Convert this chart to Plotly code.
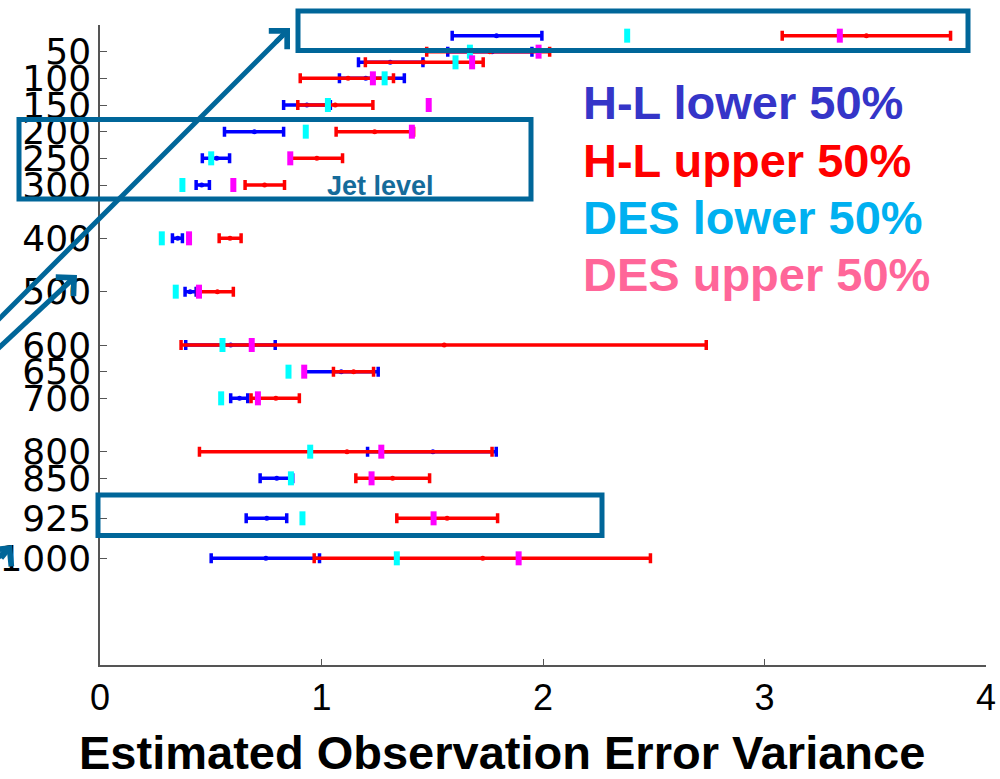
import plotly.graph_objects as go

# ---------------- data ----------------
levels = [20, 50, 70, 100, 150, 200, 250, 300, 400, 500, 600, 650, 700, 800, 850, 925, 1000]

hl_lower_min = [1.59, 1.57, 1.167, 1.081, 0.829, 0.562, 0.462, 0.434, 0.327, 0.384, 0.387, 0.923, 0.59, 1.208, 0.723, 0.66, 0.502]
hl_lower_mid = [1.79, 1.77, 1.31, 1.20, 0.934, 0.697, 0.527, 0.459, 0.351, 0.407, 0.59, 1.089, 0.63, 1.503, 0.798, 0.753, 0.749]
hl_lower_max = [1.995, 1.95, 1.458, 1.374, 1.04, 0.829, 0.585, 0.494, 0.372, 0.434, 0.791, 1.256, 0.667, 1.789, 0.87, 0.843, 0.991]

hl_upper_min = [3.08, 1.475, 1.198, 0.904, 0.893, 1.066, 0.862, 0.655, 0.538, 0.44, 0.366, 1.054, 0.682, 0.449, 1.155, 1.34, 0.967]
hl_upper_mid = [3.46, 1.76, 1.46, 1.12, 1.062, 1.24, 0.979, 0.743, 0.587, 0.53, 1.554, 1.145, 0.794, 1.115, 1.321, 1.567, 1.728]
hl_upper_max = [3.84, 2.03, 1.73, 1.325, 1.232, 1.416, 1.095, 0.833, 0.637, 0.602, 2.737, 1.235, 0.9, 1.77, 1.488, 1.795, 2.485]

des_lower = [2.38, 1.67, 1.605, 1.285, 1.029, 0.929, 0.502, 0.372, 0.279, 0.342, 0.553, 0.851, 0.547, 0.949, 0.862, 0.914, 1.34]
des_upper = [3.34, 1.98, 1.68, 1.232, 1.484, 1.408, 0.859, 0.602, 0.402, 0.447, 0.685, 0.922, 0.713, 1.27, 1.226, 1.506, 1.89]

ytick_vals = [50, 100, 150, 200, 250, 300, 400, 500, 600, 650, 700, 800, 850, 925, 1000]
xtick_vals = [0, 1, 2, 3, 4]

legend_labels = ["H-L lower 50%", "H-L upper 50%", "DES lower 50%", "DES upper 50%"]
legend_colors = ["#3535C8", "#FF0000", "#00B0F0", "#FF6699"]

# ---------------- layout geometry ----------------
W, H = 1000, 779
ML, MR, MT, MB = 100, 14, 25, 114
PW, PH = W - ML - MR, H - MT - MB
BOX = "#006699"
SANS = "Liberation Sans, Arial, sans-serif"


def px(x):
    return (x - ML) / PW


def py(y):
    return (H - MB - y) / PH


fig = go.Figure()


def errbar(mins, mids, maxs, color):
    fig.add_trace(go.Scatter(
        x=mids, y=levels, mode="markers",
        marker=dict(color=color, size=5),
        error_x=dict(type="data", symmetric=False,
                     array=[b - m for b, m in zip(maxs, mids)],
                     arrayminus=[m - a for a, m in zip(mins, mids)],
                     color=color, thickness=3.5, width=5),
        showlegend=False, hoverinfo="x+y"))


errbar(hl_lower_min, hl_lower_mid, hl_lower_max, "#0000FF")
errbar(hl_upper_min, hl_upper_mid, hl_upper_max, "#FF0000")

for vals, col in [(des_lower, "#00FFFF"), (des_upper, "#FF00FF")]:
    fig.add_trace(go.Scatter(
        x=vals, y=levels, mode="markers",
        marker=dict(symbol="line-ns", size=10, color=col,
                    line=dict(color=col, width=6)),
        showlegend=False))

# legend-like coloured texts
for i, (lab, col) in enumerate(zip(legend_labels, legend_colors)):
    fig.add_annotation(x=px(581), y=py(103 + i * 57), xref="paper", yref="paper",
                       text=lab, showarrow=False, xanchor="left", yanchor="middle",
                       font=dict(family=SANS, size=47, color=col, weight="bold"))

# boxes
for (x0, y0, x1, y1) in [(298, 11, 968, 50.5), (19, 119.5, 531, 199), (98, 495, 602, 535.5)]:
    fig.add_shape(type="rect", xref="paper", yref="paper",
                  x0=px(x0), x1=px(x1), y0=py(y1), y1=py(y0),
                  line=dict(color=BOX, width=5), fillcolor="rgba(0,0,0,0)")

fig.add_annotation(x=px(380), y=py(186), xref="paper", yref="paper", text="Jet level",
                   showarrow=False, xanchor="center", yanchor="middle",
                   font=dict(family=SANS, size=27, color="#156B9A", weight="bold"))

# arrows: shaft as line shape, head as short annotation arrow
for (x0, y0, tx, ty) in [(-40, 358, 290, 28), (-40, 384, 77, 275), (-30, 583, 12, 545)]:
    dx, dy = tx - x0, ty - y0
    n = (dx * dx + dy * dy) ** 0.5
    ux, uy = dx / n, dy / n
    fig.add_shape(type="line", xref="paper", yref="paper",
                  x0=px(x0), y0=py(y0), x1=px(tx - 6 * ux), y1=py(ty - 6 * uy),
                  line=dict(color=BOX, width=5))
    fig.add_annotation(x=px(tx), y=py(ty), xref="paper", yref="paper", text="",
                       showarrow=True, ax=-22 * ux, ay=-22 * uy, arrowhead=4, arrowsize=1,
                       arrowwidth=5, arrowcolor=BOX, standoff=0)

# x axis title
fig.add_annotation(x=px(502), y=py(752), xref="paper", yref="paper",
                   text="Estimated Observation Error Variance", showarrow=False,
                   xanchor="center", yanchor="middle",
                   font=dict(family=SANS, size=47, color="black", weight="bold"))

fig.update_layout(
    width=W, height=H,
    margin=dict(l=ML, r=MR, t=MT, b=MB, autoexpand=False),
    paper_bgcolor="white", plot_bgcolor="white",
    xaxis=dict(range=[0, 4], tickvals=xtick_vals, ticks="inside", ticklen=6,
               automargin=False,
               showgrid=False, zeroline=False, showline=True, linecolor="#555555",
               linewidth=1.5, tickcolor="#555555",
               tickfont=dict(family=SANS, size=36, color="black")),
    yaxis=dict(range=[1200, 0], tickvals=ytick_vals, ticks="inside", ticklen=7,
               automargin=False,
               showgrid=False, zeroline=False, showline=True, linecolor="#555555",
               linewidth=1.5, tickcolor="#555555",
               tickfont=dict(family="DejaVu Sans, sans-serif", size=36, color="black")),
)

fig.write_html("out.html")
